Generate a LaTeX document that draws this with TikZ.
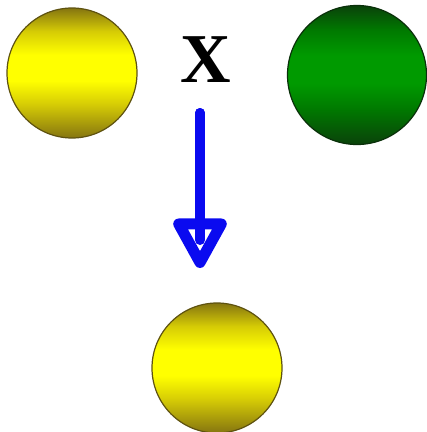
\documentclass[tikz,border=0pt]{standalone}
\usepackage{fontspec}
\setmainfont{Liberation Serif}
\usetikzlibrary{arrows.meta,calc}
\definecolor{yellowlight}{HTML}{FFFF00}
\definecolor{yellowmid}{HTML}{D6CC05}
\definecolor{yellowdark}{HTML}{857510}
\definecolor{yellowedge}{HTML}{5E5210}
\definecolor{greenlight}{HTML}{009A00}
\definecolor{greenmid}{HTML}{007A00}
\definecolor{greendark}{HTML}{0A420A}
\definecolor{greenedge}{HTML}{0A300A}
\definecolor{arrowblue}{HTML}{0A0AF0}
\pgfdeclareverticalshading{yellowglow}{100bp}{color(0bp)=(yellowdark);
  color(25bp)=(yellowdark); color(38bp)=(yellowmid); color(47bp)=(yellowlight);
  color(57bp)=(yellowlight); color(66bp)=(yellowmid); color(75bp)=(yellowdark);
  color(100bp)=(yellowdark)}
\pgfdeclareverticalshading{greenglow}{100bp}{color(0bp)=(greendark);
  color(25bp)=(greendark); color(38bp)=(greenmid); color(47bp)=(greenlight);
  color(57bp)=(greenlight); color(66bp)=(greenmid); color(75bp)=(greendark);
  color(100bp)=(greendark)}

\begin{document}
\begin{tikzpicture}[x=1pt,y=-1pt,
    ball/.style={circle,minimum size=130pt,inner sep=0pt,line width=1.2pt},
    yellowball/.style={ball,draw=yellowedge,shading=yellowglow},
    greenball/.style={ball,minimum size=139pt,draw=greenedge,shading=greenglow},
    shaft/.style={draw=arrowblue,line width=10pt,line cap=round}]
  \useasboundingbox (0,0) rectangle (427,432);
  \node[yellowball] (left) at (72,73) {};
  \node[greenball] (right) at (357,75) {};
  \node[yellowball] (bottom) at (217,368) {};
  \node[font=\fontsize{70}{70}\selectfont\bfseries] (xlab) at (206,60) {X};
  % the transition arrow
  \coordinate (tail) at (200,113);
  \coordinate (tip) at (200,268);
  \draw[shaft,-{Triangle[open,length=56pt,width=58pt,line width=11pt,round]}] (tail) -- (tip);
  \draw[shaft] (tail) -- ($(tip)+(0,-28)$);
\end{tikzpicture}
\end{document}
